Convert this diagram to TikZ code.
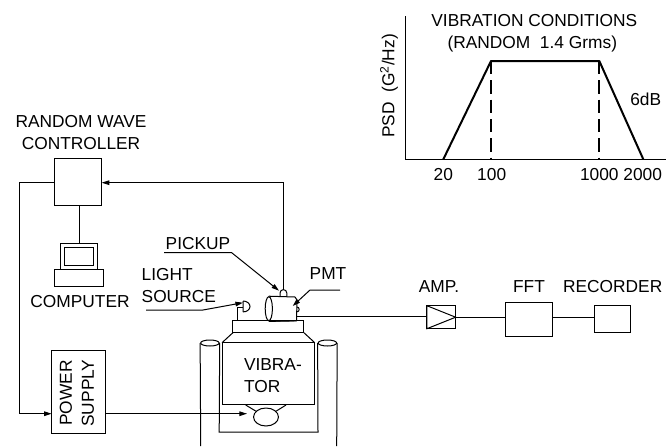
\documentclass[tikz,border=0pt]{standalone}
\usepackage{fontspec}
\setmainfont{Liberation Sans}
\usetikzlibrary{positioning, arrows.meta, calc, shapes.geometric}

\begin{document}
\begin{tikzpicture}[
    x=0.75pt, y=-0.75pt,
    line width=0.75pt,
    box/.style={draw, inner sep=0pt, outer sep=0pt},
    lbl/.style={inner sep=0pt, outer sep=0pt, align=center, font=\fontsize{13}{13}\selectfont},
    arr/.style={-{Stealth[length=2mm, width=1.2mm, inset=0pt]}},
    curve/.style={line width=1.5pt},
]
    \useasboundingbox (0,0) rectangle (666,446);

    % controller side
    \node[box, minimum width=35.5pt, minimum height=35pt] (ctrl) at (78,182) {};
    \node[lbl] (ctrllbl) at (81,132.5) {RANDOM WAVE\\[4pt]CONTROLLER};
    \node[box, minimum width=27.5pt, minimum height=19.7pt] (screen) at (79,256.8) {};
    \node[box, minimum width=21.7pt, minimum height=13.5pt] (glass) at (screen) {};
    \node[box, minimum width=36.5pt, minimum height=12.2pt, below=0pt of screen] (kbd) {};
    \node[lbl] (complbl) at (80,302) {COMPUTER};
    \node[box, minimum width=40.2pt, minimum height=62.2pt] (power) at (78.5,392.2) {};
    \node[lbl, rotate=90] (powerlbl) at (77,393) {POWER\\[3.5pt]SUPPLY};

    \coordinate (bend1) at (19.3,182.7);
    \coordinate (bend2) at (19.3,413.7);
    \draw (ctrl.west |- bend1) -- (bend1) -- (bend2);
    \draw[arr] (bend2) -- (bend2 -| power.west);
    \draw (ctrl.south -| screen.north) -- (screen.north);

    % vibrator
    \node[box, minimum width=69.5pt, minimum height=46.7pt] (vib) at (268.4,373.8) {};
    \node[lbl, align=left, anchor=west] (viblbl) at (244,376) {VIBRA-\\[3.5pt]TOR};
    \node[box, minimum width=53.2pt, minimum height=9.2pt, above=7.5pt of vib] (table) {};
    \draw (table.south west) -- (vib.north west);
    \draw (table.south east) -- (vib.north east);
    \node[draw, ellipse, inner sep=0pt, minimum width=18.7pt, minimum height=13.5pt] (motor) at (266,417) {};
    \draw (245.7,405) -- (motor.150);
    \draw (286,405) -- (motor.30);
    \draw[arr] (power.east |- bend2) -- ($(motor.west |- bend2)+(-6,0)$);

    % columns
    \node[draw, ellipse, inner sep=0pt, minimum width=13.9pt, minimum height=4.5pt] (colL) at (209.9,343) {};
    \node[draw, ellipse, inner sep=0pt, minimum width=13.9pt, minimum height=4.5pt] (colR) at (327.4,343) {};
    \draw (colL.west) -- (200.7,446);
    \draw (colR.east) -- (336.7,446);
    \draw (colL.east) -- (219.2,432) -- (318,432) -- (colR.west);

    % pmt
    \node[draw, ellipse, inner sep=0pt, fill=white, minimum width=5.4pt, minimum height=18pt] (pmt) at (268.8,308.7) {};
    \coordinate (pmtNE) at (295,297);
    \coordinate (pmtE) at (297,300);
    \coordinate (pmtSE) at (296.5,320.7);
    \draw (pmt.north) -- (pmtNE) -- (pmtE) -- (pmtSE) -- (pmt.south);
    \draw[line width=1pt] (pmt.south) -- (pmtSE);
    \draw (280,296.8) -- (280,293) arc[start angle=180, end angle=0, radius=2.55pt] -- (286.8,296.8);
    \draw (297,307) arc[start angle=90, end angle=-90, x radius=1.65pt, y radius=1.8pt];
    \draw (299,302.5) -- (297,303);
    \node[lbl] (pmtlbl) at (328,274) {PMT};
    \coordinate (pmtlead) at (340,290);
    \draw[arr] (pmtlead) -- (310,290) -- (292.7,306);

    % lamp
    \coordinate (lampfoot) at (237.5,320.7);
    \draw (lampfoot) |- (243,307);
    \draw (243,301) -- (243,312) (243,301) arc[start angle=90, end angle=-90, x radius=5.25pt, y radius=4.1pt];
    \node[lbl, align=left, anchor=west] (lightlbl) at (141.7,285.5) {LIGHT\\[3.5pt]SOURCE};
    \coordinate (lightlead) at (146,310);
    \draw[arr] (lightlead) -- (203,310) -- (243,302.7);

    % pickup
    \node[lbl, anchor=west] (picklbl) at (165.7,244) {PICKUP};
    \coordinate (picklead) at (164,252.7);
    \draw[arr] (picklead) -- (231.7,252.7) -- (279,290.7);
    \coordinate (pickup) at (283.3,289.8);
    \draw[arr] (pickup) |- (ctrl.east |- bend1);

    % signal chain
    \node[box, minimum width=21.5pt, minimum height=17.2pt] (amp) at (441.3,317.2) {};
    \draw (amp.north west) -- (amp.east) -- (amp.south west) -- cycle;
    \node[box, minimum width=35.3pt, minimum height=25.3pt] (fft) at (529.2,319.2) {};
    \node[box, minimum width=26.3pt, minimum height=20pt] (rec) at (612.5,319) {};
    \node[lbl] (amplbl) at (439,286.7) {AMP.};
    \node[lbl] (fftlbl) at (529,286.7) {FFT};
    \node[lbl] (reclbl) at (612.7,286.7) {RECORDER};
    \coordinate (pmtout) at (297,316);
    \draw (pmtout) -- (pmtout -| amp.west);
    \draw (amp.east) -- (amp.east -| fft.west);
    \draw (amp.east -| fft.east) -- (amp.east -| rec.west);

    % psd chart
    \coordinate (org) at (405.3,159.3);
    \draw (405.3,16) -- (org) -- (666,159.3);
    \coordinate (f20) at (443.3,159.3);
    \coordinate (f100) at (491,61);
    \coordinate (f1000) at (599.3,61);
    \coordinate (f2000) at (643.3,159.3);
    \draw[curve, line join=round] (f20) -- (f100) -- (f1000) -- (f2000);
    \draw[curve, dash pattern=on 10pt off 4.5pt] (f100) -- (f100 |- org);
    \draw[curve, dash pattern=on 10pt off 4.5pt] (f1000) -- (f1000 |- org);
    \node[lbl] (titlelbl) at (534.3,21) {VIBRATION CONDITIONS};
    \node[lbl] (sublbl) at (532.3,44) {(RANDOM\ \ 1.4 Grms)};
    \node[lbl] (t20) at (443.3,174.5) {20};
    \node[lbl] (t100) at (491.7,174.5) {100};
    \node[lbl] (t1000) at (599.3,174.5) {1000};
    \node[lbl] (t2000) at (642.7,174.5) {2000};
    \node[lbl] (dblbl) at (645.7,99) {6dB};
    \node[lbl, rotate=90] (psdlbl) at (389,86) {PSD\ \ (G\textsuperscript{2}/Hz)};
\end{tikzpicture}
\end{document}
